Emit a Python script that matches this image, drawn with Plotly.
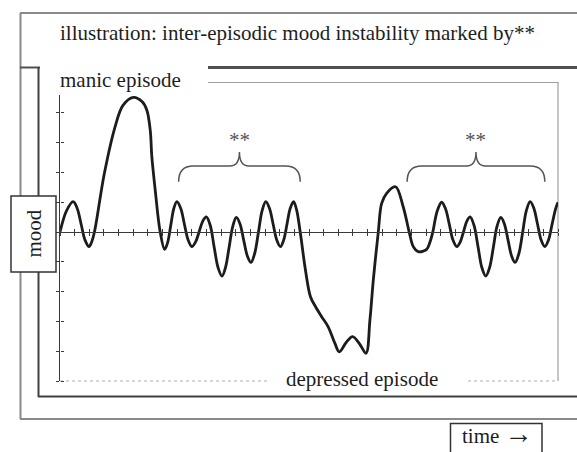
import plotly.graph_objects as go

# ---- data (axis units: x = time steps, y = mood level) ----
time_pts = [0.0, 0.45, 0.9, 1.17, 1.44, 1.71, 1.98, 2.15, 2.35, 3.03, 3.76, 4.3, 5.0, 5.6, 5.93,
            6.16, 6.27, 6.5, 6.84, 7.14, 7.35, 7.56, 7.77, 7.98, 8.24, 8.49, 8.75, 9.0, 9.25, 9.5,
            9.74, 9.99, 10.26, 10.52, 10.79, 11.06, 11.3, 11.55, 11.8, 12.04, 12.29, 12.54, 12.79,
            13.04, 13.29, 13.55, 13.8, 14.05, 14.3, 14.55, 14.8, 15.05, 15.27, 15.5, 15.72, 15.95,
            16.15, 16.4, 16.76, 17.1, 17.44, 17.86, 18.31, 18.77, 19.07, 19.55, 19.98, 20.45,
            20.89, 21.16, 21.39, 21.73, 21.96, 22.3, 22.91, 23.43, 23.84, 24.12, 24.46, 25.03,
            25.25, 25.45, 25.75, 26.06, 26.32, 26.58, 26.83, 27.09, 27.32, 27.55, 27.77, 28.0,
            28.27, 28.54, 28.8, 29.07, 29.33, 29.59, 29.84, 30.1, 30.34, 30.59, 30.83, 31.07,
            31.33, 31.59, 31.84, 32.1, 32.35, 32.6, 32.85, 33.1, 33.35, 33.6, 33.85, 34.0]
mood_pts = [0.0, 0.72, 1.02, 0.8, 0.27, -0.27, -0.49, -0.35, 0.0, 1.97, 3.53, 4.25, 4.52, 4.38, 4.09,
            3.42, 2.53, 1.41, 0.0, -0.58, -0.35, 0.22, 0.79, 1.02, 0.8, 0.27, -0.27, -0.49, -0.34, 0.01,
            0.36, 0.51, 0.22, -0.49, -1.19, -1.48, -1.19, -0.5, 0.2, 0.49, 0.27, -0.27, -0.8,
            -1.02, -0.72, 0.0, 0.72, 1.02, 0.8, 0.27, -0.27, -0.49, -0.27, 0.27, 0.8, 1.02,
            0.75, 0.0, -1.28, -2.17, -2.5, -2.84, -3.18, -3.74, -4.02, -3.7, -3.51, -3.75,
            -4.07, -2.95, -1.61, 0.0, 0.96, 1.3, 1.52, 0.85, 0.0, -0.49, -0.66, -0.58,
            -0.35, 0.0, 0.7, 1.0, 0.78, 0.26, -0.27, -0.49, -0.34, 0.01, 0.36, 0.51,
            0.22, -0.49, -1.19, -1.48, -1.19, -0.5, 0.2, 0.49, 0.27, -0.27, -0.8, -1.02,
            -0.72, 0.0, 0.72, 1.02, 0.8, 0.27, -0.27, -0.49, -0.27, 0.27, 0.8, 1.0]
brace_starts = [8.1, 23.7]
brace_ends = [16.4, 33.1]
brace_label = "**"
x_range = [0, 34]
y_range = [-5, 4.6]

title_text = "illustration: inter-episodic mood instability marked by**"
manic_text = "manic episode"
depressed_text = "depressed episode"
mood_text = "mood"
time_text = "time <span style='font-size:28px'>\u2192</span>"

# ---- layout helpers (pixel -> paper) ----
W, H = 577, 452
L, R, T, B = 60, 558, 95, 381


def px(x):
    return (x - L) / (R - L)


def py(y):
    return (B - y) / (B - T)


FONT = "Liberation Serif"

fig = go.Figure()
fig.add_trace(go.Scatter(x=time_pts, y=mood_pts, mode="lines",
                         line=dict(color="#1c1c1c", width=2.8, shape="spline", smoothing=1.0),
                         hoverinfo="skip", showlegend=False))
# dummy trace so the overlaying axes are drawn (crossing tick marks)
fig.add_trace(go.Scatter(x=[None], y=[None], xaxis="x2", yaxis="y2", showlegend=False,
                         hoverinfo="skip"))

shapes = []


def hline(y, x0, x1, color, width, dash="solid"):
    shapes.append(dict(type="line", xref="paper", yref="paper", x0=px(x0), x1=px(x1),
                       y0=py(y), y1=py(y), line=dict(color=color, width=width, dash=dash),
                       layer="below"))


def vline(x, y0, y1, color, width):
    shapes.append(dict(type="line", xref="paper", yref="paper", x0=px(x), x1=px(x),
                       y0=py(y0), y1=py(y1), line=dict(color=color, width=width), layer="below"))


# outer frame
hline(13, 20, 620, "#8a8a8a", 2)
vline(20.5, 13, 419, "#8a8a8a", 2)
hline(419, 20, 620, "#8a8a8a", 2)
# heavy divider under the title
hline(67.5, 20, 40, "#505050", 2)
hline(67.5, 208, 620, "#505050", 3)
# inner dark frame
vline(38.5, 67, 397, "#404040", 2)
hline(396.5, 38, 620, "#404040", 2)
# plot area box
hline(82.5, 208, 558.5, "#a0a0a0", 1.2)
vline(558, 82, 381, "#a0a0a0", 1.2)
hline(381, 60, 270, "#b0b0b0", 1.2, "dot")
hline(381, 468, 558, "#b0b0b0", 1.2, "dot")
# label boxes
shapes.append(dict(type="rect", xref="paper", yref="paper", x0=px(11), x1=px(56), y0=py(196),
                   y1=py(272), fillcolor="white", line=dict(color="#333333", width=1.5),
                   layer="above"))
shapes.append(dict(type="rect", xref="paper", yref="paper", x0=px(450.5), x1=px(542), y0=py(423.5),
                   y1=py(475), fillcolor="white", line=dict(color="#333333", width=1.5),
                   layer="above"))

# braces built from the brace spans
tip, bar, peak = 1.69, 2.22, 2.69
for a, b in zip(brace_starts, brace_ends):
    c = (a + b) / 2
    r, rc = 1.0, 0.65
    path = (f"M {a},{tip} Q {a},{bar} {a + r},{bar} L {c - rc},{bar} Q {c},{bar} {c},{peak} "
            f"Q {c},{bar} {c + rc},{bar} L {b - r},{bar} Q {b},{bar} {b},{tip}")
    shapes.append(dict(type="path", xref="x", yref="y", path=path,
                       line=dict(color="#555555", width=1.5)))

annotations = [
    dict(text=title_text, x=px(297), y=py(33), xanchor="center", yanchor="middle",
         font=dict(size=21, color="#1e1e1e", family=FONT)),
    dict(text=manic_text, x=px(58), y=py(80), xanchor="left", yanchor="middle",
         font=dict(size=21, color="#1e1e1e", family=FONT)),
    dict(text=depressed_text, x=px(362), y=py(379), xanchor="center", yanchor="middle",
         font=dict(size=21, color="#1e1e1e", family=FONT)),
    dict(text=mood_text, x=px(33.5), y=py(234), xanchor="center", yanchor="middle", textangle=-90,
         font=dict(size=21, color="#1e1e1e", family=FONT)),
    dict(text=time_text, x=px(460), y=py(433), xanchor="left", yanchor="middle",
         font=dict(size=21, color="#1e1e1e", family=FONT)),
]
for a, b in zip(brace_starts, brace_ends):
    annotations.append(dict(text=brace_label, x=(a + b) / 2, y=3.1, xref="x", yref="y",
                            xanchor="center", yanchor="middle",
                            font=dict(size=21, color="#555555", family=FONT)))
for ann in annotations:
    ann.setdefault("xref", "paper")
    ann.setdefault("yref", "paper")
    ann["showarrow"] = False

zero_pos = (0 - y_range[0]) / (y_range[1] - y_range[0])
axis_col = "#3a3a3a"
fig.update_layout(
    width=W, height=H, margin=dict(l=L, r=W - R, t=T, b=H - B),
    paper_bgcolor="white", plot_bgcolor="white", showlegend=False,
    font=dict(family=FONT),
    shapes=shapes, annotations=annotations,
    xaxis=dict(range=x_range, anchor="free", position=zero_pos, showline=True,
               linecolor=axis_col, linewidth=1.3, ticks="outside", ticklen=3, tickwidth=1,
               tickcolor=axis_col, dtick=1, tick0=0, showticklabels=False, showgrid=False,
               zeroline=False, fixedrange=True),
    xaxis2=dict(range=x_range, overlaying="x", side="top", anchor="free", position=zero_pos,
                showline=False, ticks="outside", ticklen=3, tickwidth=1, tickcolor=axis_col,
                dtick=1, tick0=0, showticklabels=False, showgrid=False, zeroline=False),
    yaxis=dict(range=y_range, showline=True, linecolor=axis_col, linewidth=1.3,
               ticks="outside", ticklen=3, tickwidth=1, tickcolor=axis_col, dtick=1, tick0=0,
               showticklabels=False, showgrid=False, zeroline=False, fixedrange=True),
    yaxis2=dict(range=y_range, overlaying="y", side="right", anchor="free", position=0,
                showline=False, ticks="outside", ticklen=3, tickwidth=1, tickcolor=axis_col,
                dtick=1, tick0=0, showticklabels=False, showgrid=False, zeroline=False),
)

fig.write_html("out.html", config=dict(displayModeBar=False),
               post_script="document.body.style.margin='0';document.body.style.overflow='hidden';")
